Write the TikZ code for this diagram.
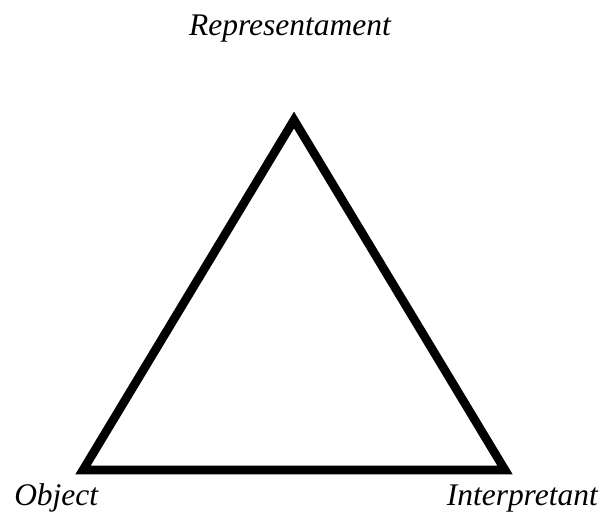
\documentclass[tikz,border=0pt]{standalone}
\usepackage{fontspec}
\setmainfont{Liberation Serif}
\usetikzlibrary{positioning}

\begin{document}
\begin{tikzpicture}[
  x=0.75pt,y=-0.75pt,
  font=\fontsize{23.6}{28}\selectfont\itshape,
  lbl/.style={inner sep=0pt},
  edge/.style={line width=6.5pt,miter limit=10}
]
\useasboundingbox (0,0) rectangle (604,519);
% corners of the triangle
\coordinate (rep) at (294,120);
\coordinate (obj) at (83,470);
\coordinate (int) at (505,470);
\draw[edge] (rep) -- (obj) -- (int) -- cycle;
% the three labels
\node[lbl,anchor=base] (replabel) at (290,35) {Representament};
\node[lbl,anchor=base west] (objlabel) at (14,505) {Object};
\node[lbl,anchor=base east] (intlabel) at (598,505) {Interpretant};
\end{tikzpicture}
\end{document}
